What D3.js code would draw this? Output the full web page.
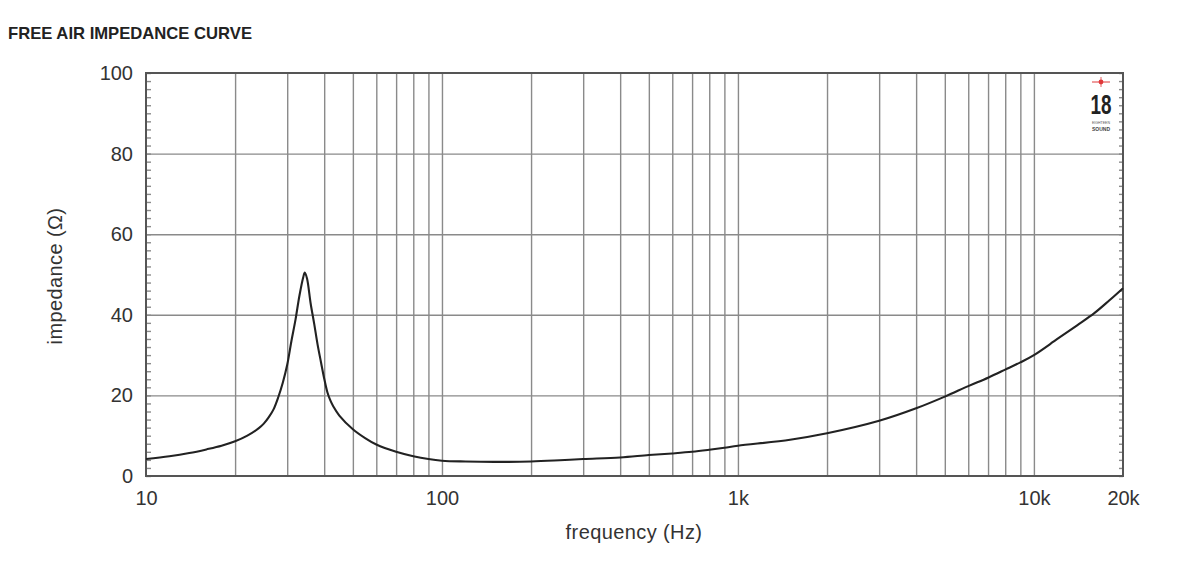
<!DOCTYPE html>
<html>
<head>
<meta charset="utf-8">
<script src="https://cdn.jsdelivr.net/npm/d3@7"></script>
<style>
  body { margin: 0; background: #fff; }
  svg { display: block; font-family: "Liberation Sans", Arial, sans-serif; }
  .grid line { stroke: #8a8a8a; stroke-width: 1.4; }
  .grid path { display: none; }
  .lbl path, .lbl line { display: none; }
  .lbl text { fill: #333; font-size: 20px; font-family: "Liberation Sans", Arial, sans-serif; }
</style>
</head>
<body>
<div id="chart"></div>
<script>
// impedance curve points
const freqs = [10, 12, 14, 16, 18, 20, 22, 24, 25, 26, 27, 28, 29, 30, 31, 32, 33, 34, 34.4, 35, 36, 37, 38, 39, 40, 41, 42, 43, 45, 50, 55, 60, 70, 80, 90, 100, 120, 150, 200, 250, 300, 400, 500, 600, 700, 800, 900, 1000, 1500, 2000, 3000, 4000, 5000, 6000, 7000, 8000, 9000, 10000, 12000, 14000, 16000, 18000, 20000];
const impedance = [4.2, 4.9, 5.7, 6.6, 7.5, 8.6, 10.0, 11.8, 13.0, 14.6, 16.6, 19.6, 23.2, 27.6, 33.5, 38.8, 44.8, 49.4, 50.5, 49.0, 42.8, 37.8, 32.6, 28.3, 24.2, 20.8, 18.7, 17.2, 15.0, 11.6, 9.4, 7.8, 6.0, 4.9, 4.2, 3.8, 3.6, 3.5, 3.6, 3.9, 4.2, 4.6, 5.2, 5.6, 6.0, 6.5, 7.0, 7.5, 9.0, 10.6, 13.7, 16.8, 19.7, 22.3, 24.4, 26.4, 28.2, 30.0, 34.0, 37.4, 40.4, 43.6, 46.6];

const xLabelValues = [10, 100, 1000, 10000, 20000];
const xLabels = ["10", "100", "1k", "10k", "20k"];
const xGridValues = [20, 30, 40, 50, 60, 70, 80, 90, 100, 200, 300, 400, 500, 600, 700, 800, 900, 1000, 2000, 3000, 4000, 5000, 6000, 7000, 8000, 9000, 10000];
const yLabelValues = [0, 20, 40, 60, 80, 100];
const yGridValues = [20, 40, 60, 80];
const yMinorTicks = d3.range(0, 101, 2);

const W = 1200, H = 578;
const margin = {top: 73, right: 77, bottom: 102, left: 146};
const width = W - margin.left - margin.right,
      height = H - margin.top - margin.bottom;

const svg = d3.select("#chart").append("svg")
  .attr("width", W)
  .attr("height", H);

const x = d3.scaleLog().domain([10, 20000]).range([0, width]);
const y = d3.scaleLinear().domain([0, 100]).range([height, 0]);

//Title
svg.append("text")
  .attr("x", 8)
  .attr("y", 39)
  .attr("textLength", 244)
  .attr("lengthAdjust", "spacingAndGlyphs")
  .style("font-size", "17px")
  .style("font-weight", "bold")
  .style("fill", "#222")
  .text("FREE AIR IMPEDANCE CURVE");

const g = svg.append("g")
  .attr("transform", "translate(" + margin.left + "," + margin.top + ")");

//Grid lines
g.append("g")
  .attr("class", "grid")
  .attr("transform", "translate(0," + height + ")")
  .call(d3.axisBottom(x).tickValues(xGridValues).tickSize(-height).tickFormat(""));

g.append("g")
  .attr("class", "grid")
  .call(d3.axisLeft(y).tickValues(yGridValues).tickSize(-width).tickFormat(""));

//Minor ticks on both sides, pointing inward
g.append("g")
  .attr("class", "grid")
  .call(d3.axisLeft(y).tickValues(yMinorTicks).tickSize(-5).tickFormat(""));

g.append("g")
  .attr("class", "grid")
  .attr("transform", "translate(" + width + ",0)")
  .call(d3.axisRight(y).tickValues(yMinorTicks).tickSize(-4).tickFormat(""));

//Frame
g.append("rect")
  .attr("width", width)
  .attr("height", height)
  .attr("fill", "none")
  .attr("stroke", "#555")
  .attr("stroke-width", 2);

//Labels
g.append("g")
  .attr("class", "lbl")
  .attr("transform", "translate(0," + height + ")")
  .call(d3.axisBottom(x).tickValues(xLabelValues).tickSize(0).tickPadding(15)
    .tickFormat((d, i) => xLabels[i]));

g.append("g")
  .attr("class", "lbl")
  .call(d3.axisLeft(y).tickValues(yLabelValues).tickSize(0).tickPadding(13));

//Curve
const pts = freqs.map((f, i) => [f, impedance[i]]);
const line = d3.line()
  .x(d => x(d[0]))
  .y(d => y(d[1]))
  .curve(d3.curveCatmullRom.alpha(0.5));

g.append("path")
  .datum(pts)
  .attr("d", line)
  .attr("fill", "none")
  .attr("stroke", "#222")
  .attr("stroke-width", 2.1);

//Axis titles
svg.append("text")
  .attr("x", 634)
  .attr("y", 539)
  .attr("text-anchor", "middle")
  .style("font-size", "20px")
  .style("letter-spacing", "0.4px")
  .style("fill", "#333")
  .text("frequency (Hz)");

svg.append("text")
  .attr("transform", "translate(62,276) rotate(-90)")
  .attr("text-anchor", "middle")
  .style("font-size", "20px")
  .style("letter-spacing", "0.4px")
  .style("fill", "#333")
  .text("impedance (\u03A9)");

//Logo
const logo = svg.append("g").attr("transform", "translate(1101,0)");
logo.append("circle").attr("cx", 0).attr("cy", 82).attr("r", 2.4).attr("fill", "#e0393b");
logo.append("line").attr("x1", -9).attr("x2", 9).attr("y1", 82).attr("y2", 82)
  .attr("stroke", "#e0393b").attr("stroke-width", 1);
logo.append("line").attr("x1", 0).attr("x2", 0).attr("y1", 77).attr("y2", 87)
  .attr("stroke", "#e0393b").attr("stroke-width", 0.8);
logo.append("text")
  .attr("x", 0).attr("y", 114)
  .attr("text-anchor", "middle")
  .attr("textLength", 21)
  .attr("lengthAdjust", "spacingAndGlyphs")
  .style("font-size", "28px")
  .style("font-weight", "bold")
  .style("fill", "#222")
  .text("18");
logo.append("text")
  .attr("x", 0).attr("y", 124)
  .attr("text-anchor", "middle")
  .attr("textLength", 18)
  .attr("lengthAdjust", "spacingAndGlyphs")
  .style("font-size", "4px")
  .style("fill", "#555")
  .text("EIGHTEEN");
logo.append("text")
  .attr("x", 0).attr("y", 130.5)
  .attr("text-anchor", "middle")
  .attr("textLength", 18)
  .attr("lengthAdjust", "spacingAndGlyphs")
  .style("font-size", "5px")
  .style("font-weight", "bold")
  .style("fill", "#444")
  .text("SOUND");
</script>
</body>
</html>
